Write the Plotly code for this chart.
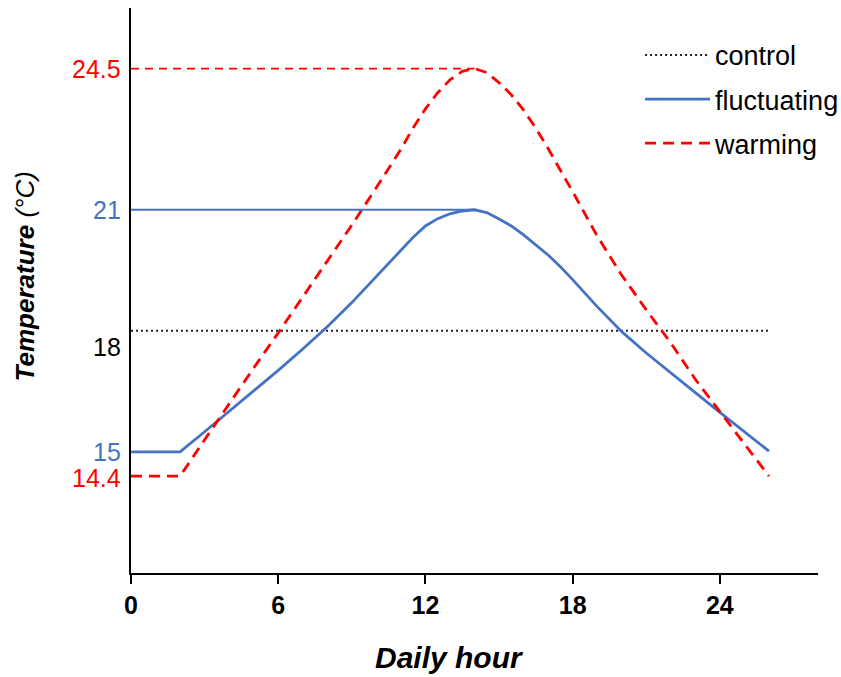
import plotly.graph_objects as go

# ---- data ----
hours = [0, 1, 2, 3, 4, 5, 6, 7, 8, 9, 10, 11, 11.5, 12, 12.5, 13, 13.5, 14, 14.5, 15, 15.5, 16, 16.5, 17, 17.5,
         18, 19, 20, 21, 22, 23, 24, 25, 26]
fluctuating = [15, 15, 15, 15.5, 16.0, 16.5, 17.02, 17.55, 18.1, 18.7, 19.35, 19.98, 20.32, 20.6, 20.78, 20.9, 20.97,
               21.0, 20.93, 20.77, 20.6, 20.38, 20.14, 19.88, 19.59, 19.27, 18.6, 17.98, 17.45, 16.95, 16.47, 15.98,
               15.5, 15.02]
warming = [14.4, 14.4, 14.4, 15.3, 16.2, 17.08, 17.95, 18.83, 19.72, 20.62, 21.55, 22.5, 23.03, 23.5, 23.9, 24.22,
           24.43, 24.5, 24.4, 24.15, 23.85, 23.47, 23.02, 22.52, 21.98, 21.45, 20.35, 19.38, 18.52, 17.7, 16.8, 16.0,
           15.2, 14.4]
control_hours = [0, 26]
control = [18, 18]
peak_hours = [0, 14]

ylabel_values = [24.5, 21, 18, 15, 14.4]
ylabel_texts = ["24.5", "21", "18", "15", "14.4"]
ylabel_colors = ["#FF0000", "#4472C4", "#000000", "#4472C4", "#FF0000"]
ylabel_shift = [0, 0, -16, 0, -2]
xtick_values = [0, 6, 12, 18, 24]

BLUE = "#4472C4"
RED = "#FF0000"
FONT = "Liberation Sans, Arial, sans-serif"

fig = go.Figure()

fig.add_trace(go.Scatter(x=control_hours, y=control, mode="lines", name="control",
                         line=dict(color="#222222", width=2, dash="2px,3px"),
                         legendgroup="a"))
fig.add_trace(go.Scatter(x=hours, y=fluctuating, mode="lines", name="fluctuating",
                         line=dict(color=BLUE, width=2.8),
                         legendgroup="b"))
fig.add_trace(go.Scatter(x=hours, y=warming, mode="lines", name="warming",
                         line=dict(color=RED, width=2.8, dash="11px,7px"),
                         legendgroup="c"))

# reference lines to the peaks
fig.add_trace(go.Scatter(x=peak_hours, y=[max(fluctuating)] * 2, mode="lines", showlegend=False,
                         line=dict(color=BLUE, width=2), hoverinfo="skip"))
fig.add_trace(go.Scatter(x=peak_hours, y=[max(warming)] * 2, mode="lines", showlegend=False,
                         line=dict(color=RED, width=1.8, dash="8px,6px"), hoverinfo="skip"))

annotations = []
for v, t, c, s in zip(ylabel_values, ylabel_texts, ylabel_colors, ylabel_shift):
    annotations.append(dict(x=0, xref="paper", y=v, yref="y", text=t, showarrow=False,
                            xanchor="right", yanchor="middle", xshift=-8, yshift=s,
                            font=dict(family=FONT, size=25, color=c)))

annotations.append(dict(x=0.463, xref="paper", y=-0.150, yref="paper", text="<b><i>Daily hour</i></b>",
                        showarrow=False, xanchor="center", yanchor="middle",
                        font=dict(family=FONT, size=30, color="black")))
annotations.append(dict(x=-0.1537, xref="paper", y=0.5257, yref="paper",
                        text="<i><b>Temperature</b> (°C)</i>", textangle=-90,
                        showarrow=False, xanchor="center", yanchor="middle",
                        font=dict(family=FONT, size=26, color="black")))

fig.update_layout(
    width=841, height=677,
    margin=dict(l=131, r=23, t=8, b=104, autoexpand=False),
    paper_bgcolor="white", plot_bgcolor="white",
    font=dict(family=FONT, color="black"),
    showlegend=True,
    legend=dict(x=0.741, y=0.9595, xanchor="left", yanchor="top",
                font=dict(family=FONT, size=27, color="black"),
                traceorder="grouped", tracegroupgap=6, itemwidth=65,
                bgcolor="rgba(0,0,0,0)"),
    annotations=annotations,
    xaxis=dict(range=[0, 28], tickvals=xtick_values, showgrid=False, zeroline=False,
               showline=True, linecolor="black", linewidth=2.2,
               ticks="outside", ticklen=9, tickwidth=2, tickcolor="black",
               tickfont=dict(family=FONT, size=25, color="black", weight="bold")),
    yaxis=dict(range=[12, 26], showgrid=False, zeroline=False, showticklabels=False,
               showline=True, linecolor="black", linewidth=2.2, ticks=""),
)

fig.write_html(
    "out.html",
    config={"displayModeBar": False},
    post_script=(
        "document.documentElement.style.margin='0';"
        "document.documentElement.style.padding='0';"
        "document.documentElement.style.overflow='hidden';"
        "document.body.style.margin='0';"
        "document.body.style.padding='0';"
        "document.body.style.overflow='hidden';"
        "document.body.style.height='677px';"
    ),
)
